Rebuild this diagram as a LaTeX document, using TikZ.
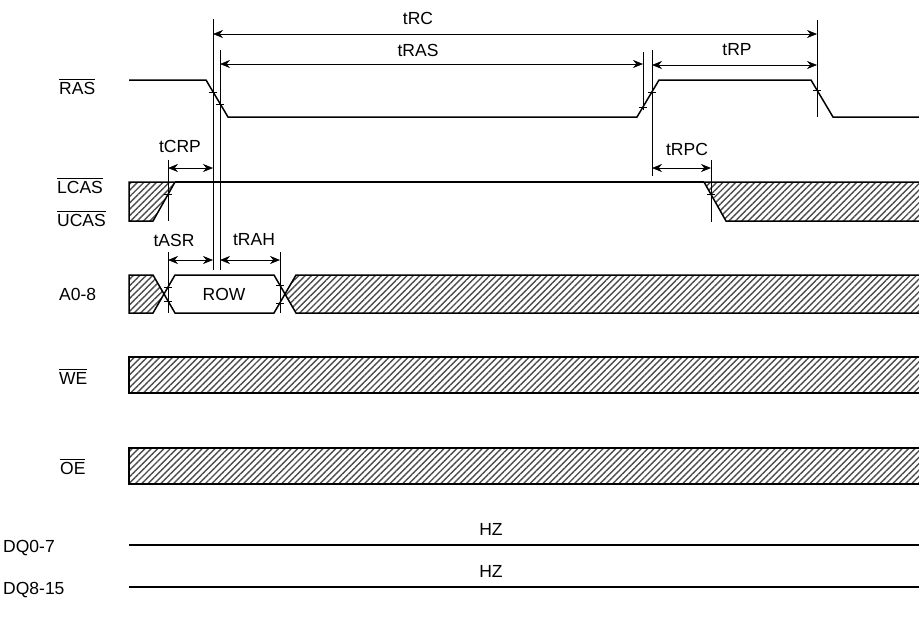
\documentclass[tikz,border=0pt]{standalone}
\usepackage{fontspec}
\setmainfont{Liberation Sans}
\usetikzlibrary{arrows.meta, patterns.meta}

\newcommand{\sigbar}[1]{{\setbox0\hbox{#1}\rlap{\rule[\dimexpr\ht0+2.5pt\relax]{\wd0}{1.1pt}}\box0}}

\tikzset{
    sig/.style={line width=1.5pt, line join=miter},
    refline/.style={line width=0.6pt},
    dim/.style={line width=0.6pt, {Stealth[length=10pt,width=8pt]}-{Stealth[length=10pt,width=8pt]}},
    hatch/.style={pattern={Lines[angle=45,distance=4.5pt,line width=1.4pt]}, pattern color=black!70},
    lbl/.style={anchor=west, inner sep=0pt},
    txt/.style={inner sep=0pt},
}

\begin{document}
\begin{tikzpicture}[x=1pt, y=-1pt, font=\fontsize{17.5pt}{21pt}\selectfont]
    \useasboundingbox (0,0) rectangle (919,619);

    % signal names
    \node[lbl] (nRAS)  at (59,87)  {\sigbar{RAS}};
    \node[lbl] (nLCAS) at (57,186) {\sigbar{LCAS}};
    \node[lbl] (nUCAS) at (57,219) {\sigbar{UCAS}};
    \node[lbl] (nADR)  at (59,294) {A0-8};
    \node[lbl] (nWE)   at (59,377) {\sigbar{WE}};
    \node[lbl] (nOE)   at (60,467) {\sigbar{OE}};
    \node[lbl] (nDQL)  at (3,548)  {DQ0-7};
    \node[lbl] (nDQH)  at (3,590)  {DQ8-15};

    % RAS
    \draw[sig] (129,80) -- (206,80) -- (228,117) -- (637,117) -- (659,80)
        -- (811,80) -- (833,117) -- (919,117);

    % LCAS / UCAS
    \draw[sig, hatch] (129,182) -- (175,182) -- (153,221) -- (129,221) -- cycle;
    \draw[sig] (175,182) -- (704,182);
    \draw[sig, hatch] (919,182) -- (704,182) -- (726,221) -- (919,221);

    % A0-8
    \draw[sig, hatch] (129,275) -- (153,275) -- (164,294) -- (153,313) -- (129,313) -- cycle;
    \draw[sig] (164,294) -- (175,275) -- (274,275) -- (285,294) -- (274,313) -- (175,313) -- cycle;
    \draw[sig, hatch] (919,275) -- (296,275) -- (285,294) -- (296,313) -- (919,313);
    \node[txt] (row) at (224,294) {ROW};

    % WE, OE
    \draw[sig, hatch] (919,357) -- (129,357) -- (129,393) -- (919,393);
    \draw[sig, hatch] (919,448) -- (129,448) -- (129,484) -- (919,484);

    % DQ
    \draw[sig] (129,545) -- (919,545);
    \draw[sig] (129,587) -- (919,587);
    \node[txt] (hzL) at (491,529) {HZ};
    \node[txt] (hzH) at (491,571) {HZ};

    % reference lines
    \draw[refline] (213,19) -- (213,270);
    \draw[refline] (220,50) -- (220,270);
    \draw[refline] (643,52) -- (643,110);
    \draw[refline] (652,50) -- (652,176);
    \draw[refline] (817,20) -- (817,117);
    \draw[refline] (711,160) -- (711,222);
    \draw[refline] (168,160) -- (168,221);
    \draw[refline] (168,252) -- (168,313);
    \draw[refline] (280,252) -- (280,313);

    % crossing marks
    \foreach \x/\y in {213/92, 220/104, 643/107, 652/92, 817/90,
                       168/194, 711/194, 168/287, 168/301, 280/285, 280/303}
        \draw[refline] (\x-4,\y) -- (\x+4,\y);

    % timing arrows
    \coordinate (rcA)  at (213,34);  \coordinate (rcB)  at (817,34);
    \coordinate (rasA) at (220,64);  \coordinate (rasB) at (643,64);
    \coordinate (rpA)  at (652,65);  \coordinate (rpB)  at (817,65);
    \coordinate (crpA) at (168,168); \coordinate (crpB) at (213,168);
    \coordinate (rpcA) at (652,168); \coordinate (rpcB) at (711,168);
    \coordinate (asrA) at (168,260); \coordinate (asrB) at (213,260);
    \coordinate (rahA) at (220,260); \coordinate (rahB) at (280,260);

    \draw[dim] (rcA) -- (rcB);
    \draw[dim] (rasA) -- (rasB);
    \draw[dim] (rpA) -- (rpB);
    \draw[dim] (crpA) -- (crpB);
    \draw[dim] (rpcA) -- (rpcB);
    \draw[dim] (asrA) -- (asrB);
    \draw[dim] (rahA) -- (rahB);

    \node[txt] (tRC)  at (418,18)  {tRC};
    \node[txt] (tRAS) at (418,50)  {tRAS};
    \node[txt] (tRP)  at (737,50)  {tRP};
    \node[txt] (tCRP) at (180,146) {tCRP};
    \node[txt] (tRPC) at (687,149) {tRPC};
    \node[txt] (tASR) at (174,240) {tASR};
    \node[txt] (tRAH) at (254,240) {tRAH};
\end{tikzpicture}
\end{document}
